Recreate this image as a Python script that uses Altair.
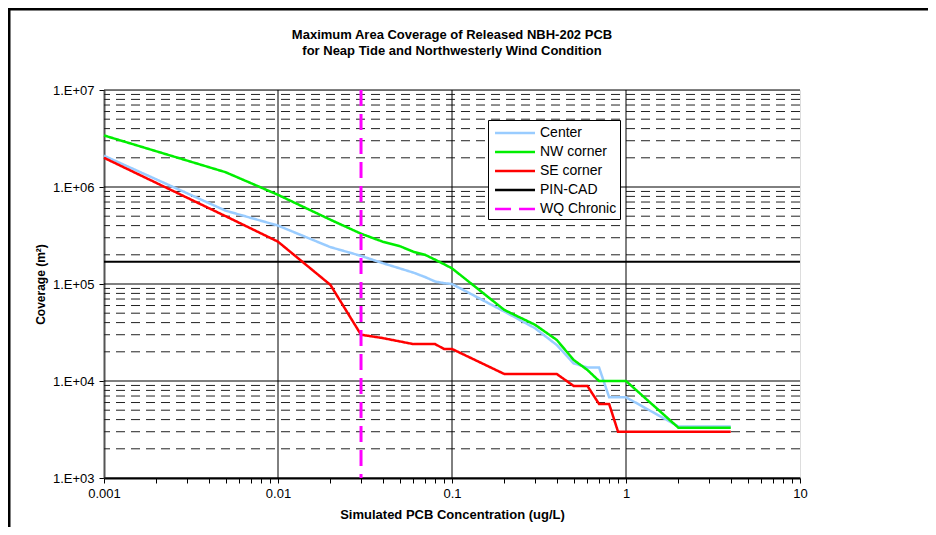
import altair as alt
import pandas as pd

conc = [0.001, 0.005, 0.01, 0.02, 0.03, 0.04, 0.05, 0.06, 0.07, 0.08, 0.09, 0.1,
        0.2, 0.3, 0.4, 0.5, 0.6, 0.7, 0.8, 0.9, 1, 2, 3, 4]
center = [2.1e6, 5.7e5, 4.0e5, 2.4e5, 1.95e5, 1.64e5, 1.45e5, 1.31e5, 1.18e5, 1.06e5, 1.02e5, 1.0e5,
          5.2e4, 3.5e4, 2.35e4, 1.52e4, 1.38e4, 1.38e4, 6.8e3, 6.8e3, 6.8e3, 3.4e3, 3.4e3, 3.4e3]
nw_corner = [3.4e6, 1.42e6, 8.3e5, 4.6e5, 3.3e5, 2.73e5, 2.46e5, 2.15e5, 2.0e5, 1.78e5, 1.6e5, 1.45e5,
             5.4e4, 3.8e4, 2.65e4, 1.65e4, 1.3e4, 1.0e4, 1.0e4, 1.0e4, 1.0e4, 3.3e3, 3.3e3, 3.3e3]
se_corner = [2.0e6, 5.0e5, 2.73e5, 9.8e4, 3.0e4, 2.77e4, 2.56e4, 2.4e4, 2.4e4, 2.4e4, 2.14e4, 2.14e4,
             1.18e4, 1.18e4, 1.18e4, 8.9e3, 8.9e3, 5.8e3, 5.8e3, 3.0e3, 3.0e3, 3.0e3, 3.0e3, 3.0e3]
pin_cad = [1.7e5]
wq_chronic = [0.03]

series_names = ["Center", "NW corner", "SE corner", "PIN-CAD", "WQ Chronic"]
series_colors = ["#99CCFF", "#00EE00", "#FF0000", "#000000", "#FF00FF"]
series_dash = [[1, 0], [1, 0], [1, 0], [1, 0], [16, 8]]

x_decades = [0.001, 0.01, 0.1, 1, 10]
x_ticks = [k * d for d in [0.001, 0.01, 0.1, 1] for k in range(1, 10)] + [10]
y_decades = [1e3, 1e4, 1e5, 1e6, 1e7]
y_minor = [k * d for d in [1e3, 1e4, 1e5, 1e6] for k in range(2, 10)]

rows = []
for name, vals in [("Center", center), ("NW corner", nw_corner), ("SE corner", se_corner)]:
    for c, v in zip(conc, vals):
        rows.append({"series": name, "conc": c, "cov": v})
lines_df = pd.DataFrame(rows)
pin_df = pd.DataFrame({"series": ["PIN-CAD"] * len(pin_cad), "cov": pin_cad})
wq_df = pd.DataFrame({"series": ["WQ Chronic"] * len(wq_chronic), "conc": wq_chronic})

FONT = "Liberation Sans"
xscale = alt.Scale(type="log", domain=[0.001, 10], nice=False)
yscale = alt.Scale(type="log", domain=[1e3, 1e7], nice=False)

xaxis = alt.Axis(
    title="Simulated PCB Concentration (ug/L)", values=x_ticks,
    labelExpr="abs(log(datum.value)/LN10 - round(log(datum.value)/LN10)) < 0.000001 ? format(datum.value, '~g') : ''",
    grid=False, tickSize=5, tickColor="#000000", domainColor="#000000", domainWidth=2,
    labelFont=FONT, labelFontSize=13, labelColor="#000000", labelPadding=4,
    labelFlush=False, labelOverlap=False,
    titleFont=FONT, titleFontSize=13, titleFontWeight="bold", titleColor="#000000", titlePadding=8,
)
yaxis = alt.Axis(
    title="Coverage (m²)", values=y_decades,
    labelExpr="'1.E+0' + round(log(datum.value)/LN10)",
    grid=False, tickSize=5, tickColor="#000000", domainColor="#555555", domainWidth=2,
    labelFont=FONT, labelFontSize=13, labelColor="#000000", labelPadding=5,
    labelFlush=False, labelOverlap=False,
    titleFont=FONT, titleFontSize=12, titleFontWeight="bold", titleColor="#000000", titlePadding=5,
)

legend_cfg = dict(title=None, orient="none", legendX=384, legendY=30,
                  symbolType="M-2.35,0H2.35", symbolSize=289, symbolStrokeWidth=2.5,
                  symbolOffset=14, labelOffset=15,
                  labelFont=FONT, labelFontSize=14, labelColor="#000000",
                  rowPadding=2, padding=3, fillColor="white",
                  strokeColor="#000000")
color_enc = alt.Color("series:N", scale=alt.Scale(domain=series_names, range=series_colors),
                      legend=alt.Legend(**legend_cfg))
dash_enc = alt.StrokeDash("series:N", scale=alt.Scale(domain=series_names, range=series_dash),
                          legend=alt.Legend(**legend_cfg))

minor_grid = alt.Chart(pd.DataFrame({"v": y_minor})).mark_rule(
    color="#222222", strokeWidth=1, strokeDash=[9, 6]).encode(
    y=alt.Y("v:Q", scale=yscale, axis=yaxis))
major_ygrid = alt.Chart(pd.DataFrame({"v": y_decades})).mark_rule(
    color="#000000", strokeWidth=1).encode(
    y=alt.Y("v:Q", scale=yscale, axis=yaxis))
major_xgrid = alt.Chart(pd.DataFrame({"v": x_decades[1:-1]})).mark_rule(
    color="#000000", strokeWidth=1).encode(
    x=alt.X("v:Q", scale=xscale, axis=xaxis))

pin_layer = alt.Chart(pin_df).mark_rule(strokeWidth=2).encode(
    y=alt.Y("cov:Q", scale=yscale, axis=yaxis), color=color_enc, strokeDash=dash_enc)
line_layer = alt.Chart(lines_df).mark_line(strokeWidth=2.5).encode(
    x=alt.X("conc:Q", scale=xscale, axis=xaxis),
    y=alt.Y("cov:Q", scale=yscale, axis=yaxis),
    color=color_enc, strokeDash=dash_enc,
    order=alt.Order("conc:Q"))
wq_layer = alt.Chart(wq_df).mark_rule(strokeWidth=3).encode(
    x=alt.X("conc:Q", scale=xscale, axis=xaxis), color=color_enc, strokeDash=dash_enc)

left_border = alt.Chart(pd.DataFrame({"a": [0]})).mark_rule(color="#000000", strokeWidth=3).encode(
    x=alt.value(-95), y=alt.value(-82), y2=alt.value(437))
top_border = alt.Chart(pd.DataFrame({"a": [0]})).mark_rule(color="#000000", strokeWidth=3).encode(
    x=alt.value(-96), x2=alt.value(824), y=alt.value(-81))

chart = alt.layer(
    minor_grid, major_ygrid, major_xgrid, pin_layer, line_layer, wq_layer, left_border, top_border
).properties(
    width=696, height=388,
    title=alt.TitleParams(
        text=["Maximum Area Coverage of Released NBH-202 PCB",
              "for Neap Tide and Northwesterly Wind Condition"],
        font=FONT, fontSize=13, fontWeight="bold", color="#000000",
        anchor="middle", offset=-51, lineHeight=16),
    autosize=alt.AutoSizeParams(type="none"),
    padding={"left": 96, "top": 82, "right": 128, "bottom": 49},
).configure_view(stroke="#888888", strokeWidth=1).configure(background="white")

chart.save("out.html", embed_options={"renderer": "svg", "actions": False})
